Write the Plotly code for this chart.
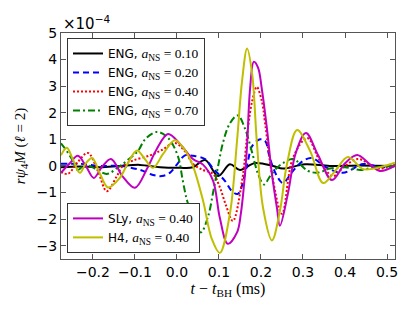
import plotly.graph_objects as go

# ---------------- data (values in units of 1e-4) ----------------
t_eng10 = [-0.276, -0.231, -0.183, -0.136, -0.088, -0.040, 0.007, 0.038, 0.067, 0.098,
           0.126, 0.150, 0.186, 0.229, 0.252, 0.305, 0.364, 0.436, 0.519]
y_eng10 = [-0.05, -0.02, -0.05, 0.00, 0.04, -0.05, -0.07, -0.05, 0.22, -0.38,
           0.06, -0.15, 0.11, 0.00, -0.10, 0.06, 0.00, 0.02, 0.00]

t_eng20 = [-0.276, -0.231, -0.183, -0.136, -0.088, -0.057, -0.036, -0.017, 0.002, 0.019,
           0.038, 0.067, 0.086, 0.114, 0.131, 0.145, 0.162, 0.169, 0.179, 0.198,
           0.210, 0.221, 0.238, 0.252, 0.276, 0.300, 0.321, 0.357, 0.395, 0.443,
           0.471, 0.495, 0.519]
y_eng20 = [0.08, 0.08, 0.00, 0.00, -0.15, -0.34, -0.38, -0.26, 0.10, 0.40,
           0.38, 0.26, -0.10, -0.56, -0.95, -1.05, -0.30, 0.19, 0.75, 1.00,
           0.94, 0.30, -0.38, -0.64, -0.19, 0.19, 0.30, -0.07, -0.26, 0.07,
           0.00, -0.05, 0.00]

t_eng40 = [-0.276, -0.260, -0.236, -0.212, -0.188, -0.167, -0.143, -0.129, -0.105, -0.064,
           -0.036, -0.005, 0.019, 0.038, 0.062, 0.086, 0.102, 0.117, 0.133, 0.155,
           0.169, 0.179, 0.190, 0.202, 0.210, 0.226, 0.250, 0.276, 0.310, 0.340,
           0.371, 0.400, 0.431, 0.460, 0.483, 0.519]
y_eng40 = [-0.22, -0.30, 0.15, 0.49, -0.20, -0.95, -0.38, 0.00, 0.20, 0.40,
           0.60, 0.86, 0.55, 0.08, -0.15, -0.30, -0.80, -1.50, -2.07, -0.56,
           1.43, 2.44, 2.97, 2.44, 1.58, -0.30, -1.80, 0.30, 1.05, 0.19,
           -0.38, 0.00, 0.26, 0.05, -0.10, 0.05]

t_eng70 = [-0.276, -0.264, -0.250, -0.236, -0.219, -0.195, -0.167, -0.140, -0.119, -0.093,
           -0.076, -0.048, -0.021, 0.002, 0.014, 0.024, 0.038, 0.057, 0.074, 0.086,
           0.098, 0.110, 0.126, 0.145, 0.162, 0.179, 0.193, 0.207, 0.221, 0.238,
           0.252, 0.276, 0.312, 0.336, 0.364, 0.400, 0.436, 0.471, 0.519]
y_eng70 = [0.85, 0.60, 0.25, -0.15, 0.05, -0.10, -0.30, -0.05, 0.20, 0.56,
           1.00, 1.28, 1.05, 0.38, -0.56, -1.30, -1.90, -2.50, -1.90, -1.00,
           0.00, 0.90, 1.60, 1.90, 1.40, 0.50, -0.30, -0.70, -0.40, -0.07,
           0.10, 0.26, -0.19, -0.25, -0.10, -0.05, -0.15, -0.05, 0.00]

t_sly = [-0.276, -0.255, -0.236, -0.217, -0.198, -0.179, -0.157, -0.129, -0.100, -0.071,
         -0.048, -0.021, 0.007, 0.038, 0.062, 0.086, 0.102, 0.121, 0.143, 0.152,
         0.162, 0.167, 0.174, 0.183, 0.193, 0.202, 0.214, 0.226, 0.238, 0.245,
         0.264, 0.283, 0.307, 0.336, 0.369, 0.400, 0.429, 0.460, 0.483, 0.519]
y_sly = [-0.26, 0.10, 0.38, 0.00, -0.45, -0.05, 0.26, -0.40, -0.82, -0.10,
         0.64, 1.20, 0.83, 0.26, 0.05, -0.56, -1.95, -2.93, -2.50, -1.80,
         -0.30, 0.80, 2.90, 3.92, 3.70, 2.90, 1.43, -0.30, -1.58, -2.25,
         -1.05, 0.50, 1.24, 0.40, -0.53, 0.10, 0.41, 0.05, -0.19, 0.00]

t_h4 = [-0.276, -0.262, -0.248, -0.231, -0.217, -0.202, -0.183, -0.164, -0.136, -0.117,
        -0.095, -0.076, -0.057, -0.033, -0.005, 0.021, 0.038, 0.062, 0.083, 0.102,
        0.126, 0.143, 0.155, 0.167, 0.179, 0.190, 0.205, 0.226, 0.245, 0.262,
        0.286, 0.317, 0.348, 0.376, 0.407, 0.443, 0.483, 0.519]
y_h4 = [0.40, 0.68, 0.25, -0.26, 0.10, 0.30, -0.30, -0.81, -0.45, 0.10,
        0.58, 0.25, -0.07, 0.45, 0.97, 0.55, 0.00, -1.30, -2.75, -3.27,
        -1.80, 0.94, 3.20, 4.42, 3.46, 0.94, -1.58, -2.80, -1.70, 0.08,
        1.35, 0.56, -0.64, -0.20, 0.34, -0.12, -0.05, 0.12]

x_ticks = [-0.2, -0.1, 0.0, 0.1, 0.2, 0.3, 0.4, 0.5]
x_ticktext = ["\u22120.2", "\u22120.1", "0.0", "0.1", "0.2", "0.3", "0.4", "0.5"]
y_ticks = [-3, -2, -1, 0, 1, 2, 3, 4, 5]
y_ticktext = ["\u22123", "\u22122", "\u22121", "0", "1", "2", "3", "4", "5"]

SERIF = "Liberation Serif"
SANS = "DejaVu Sans"


def lab(eos, a):
    return (f"{eos}, <span style=\"font-family:'{SERIF}'; font-size:13.5px\"><i>a</i><sub>NS</sub> = {a}</span>")


series = [
    (t_eng10, y_eng10, lab("ENG", "0.10"), "#000000", "solid", "legend"),
    (t_eng20, y_eng20, lab("ENG", "0.20"), "#0000FF", "6px,4px", "legend"),
    (t_eng40, y_eng40, lab("ENG", "0.40"), "#FF0000", "2px,2px", "legend"),
    (t_eng70, y_eng70, lab("ENG", "0.70"), "#008000", "7px,3px,2px,3px", "legend"),
    (t_sly, y_sly, lab("SLy", "0.40"), "#BF00BF", "solid", "legend2"),
    (t_h4, y_h4, lab("H4", "0.40"), "#BFBF00", "solid", "legend2"),
]

fig = go.Figure()
for t, y, name, col, dash, lg in series:
    fig.add_trace(go.Scatter(
        x=t, y=y, mode="lines", name=name, legend=lg,
        line=dict(color=col, width=2, dash=dash, shape="spline", smoothing=1.0),
    ))

axis_common = dict(
    showline=True, linecolor="#555555", linewidth=1.2, mirror="ticks",
    ticks="inside", ticklen=5, tickwidth=1, tickcolor="#555555",
    showgrid=False, zeroline=False, automargin=False,
    tickfont=dict(family=SANS, size=14, color="black"),
)

# page body has an 8px default margin: the figure is sized so the plot area
# lands at the same place as in the reference (x 61..395, y 33..259)
fig.update_layout(
    width=399, height=296,
    margin=dict(l=53, r=12, t=25, b=45),
    paper_bgcolor="white", plot_bgcolor="white",
    xaxis=dict(range=[-0.276, 0.519], tickvals=x_ticks, ticktext=x_ticktext,
               title=dict(text="<i>t</i> \u2212 <i>t</i><sub>BH</sub> (ms)",
                          font=dict(family=SERIF, size=16, color="black"), standoff=2),
               **axis_common),
    yaxis=dict(range=[-3.5, 5], tickvals=y_ticks, ticktext=y_ticktext,
               title=dict(text="<i>r\u03c8</i><sub>4</sub><i>M</i> (<i>\u2113</i> = 2)",
                          font=dict(family=SERIF, size=15, color="black"), standoff=7),
               **axis_common),
    legend=dict(x=0.018, y=0.978, xanchor="left", yanchor="top",
                bgcolor="white", bordercolor="#333333", borderwidth=1,
                font=dict(family=SANS, size=12, color="black"),
                tracegroupgap=0, itemwidth=30),
    legend2=dict(x=0.018, y=0.027, xanchor="left", yanchor="bottom",
                 bgcolor="white", bordercolor="#333333", borderwidth=1,
                 font=dict(family=SANS, size=12, color="black"),
                 tracegroupgap=0, itemwidth=30),
    annotations=[dict(x=0, y=1, xref="paper", yref="paper", xanchor="left", yanchor="bottom",
                      text="\u00d710<sup>\u22124</sup>", showarrow=False,
                      font=dict(family=SANS, size=15, color="black"), yshift=-2)],
)

fig.write_html("out.html")
